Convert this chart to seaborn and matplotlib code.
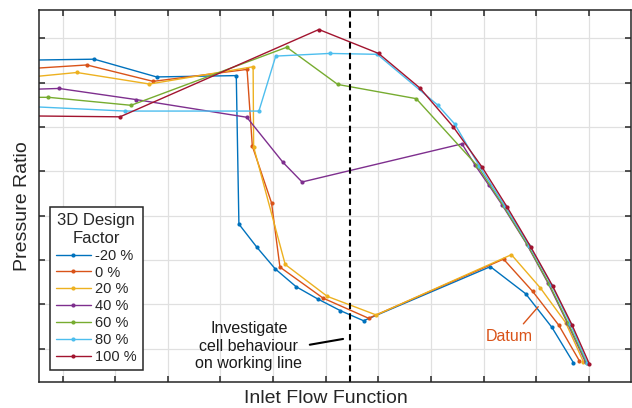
import matplotlib
matplotlib.use("Agg")
import matplotlib.pyplot as plt
import seaborn as sns
import pandas as pd

# Characteristic lines (inlet flow function, pressure ratio) per 3D design factor
labels = ["-20 %", "0 %", "20 %", "40 %", "60 %", "80 %", "100 %"]
colors = ["#0072BD", "#D95319", "#EDB120", "#7E2F8E", "#77AC30", "#4DBEEE", "#A2142F"]

flow_m20 = [-0.60, 0.60, 1.785, 3.30, 3.35, 3.69, 4.04, 4.435, 4.85, 5.28, 5.72, 8.13, 8.80, 9.30, 9.71]
pr_m20 = [6.51, 6.53, 6.13, 6.16, 2.81, 2.29, 1.80, 1.40, 1.12, 0.857, 0.63, 1.85, 1.24, 0.48, -0.32]

flow_0 = [-0.60, 0.46, 1.72, 3.505, 3.605, 3.97, 4.13, 4.95, 5.815, 8.38, 8.935, 9.43, 9.82]
pr_0 = [6.32, 6.40, 6.03, 6.30, 4.57, 3.29, 1.84, 1.14, 0.686, 2.02, 1.29, 0.53, -0.27]

flow_20 = [-0.60, 0.27, 1.65, 3.62, 3.63, 4.23, 5.03, 5.96, 8.53, 9.08, 9.56, 9.90]
pr_20 = [6.13, 6.23, 5.97, 6.36, 4.55, 1.90, 1.18, 0.76, 2.12, 1.37, 0.59, -0.30]

flow_40 = [-0.60, -0.07, 1.39, 3.50, 4.19, 4.55, 7.59, 7.84, 8.10, 8.35, 8.82, 9.23, 9.59, 9.94]
pr_40 = [5.85, 5.87, 5.62, 5.22, 4.20, 3.76, 4.62, 4.14, 3.69, 3.25, 2.36, 1.47, 0.59, -0.31]

flow_60 = [-0.60, -0.27, 1.30, 4.26, 5.23, 6.72, 7.885, 8.38, 8.84, 9.25, 9.61, 9.96]
pr_60 = [5.67, 5.67, 5.49, 6.80, 5.96, 5.64, 4.12, 3.22, 2.33, 1.45, 0.57, -0.32]

flow_80 = [-0.60, 1.19, 3.73, 4.05, 5.075, 5.98, 7.125, 7.45, 7.92, 8.41, 8.87, 9.29, 9.65, 9.975]
pr_80 = [5.46, 5.36, 5.36, 6.60, 6.66, 6.64, 5.50, 5.07, 4.12, 3.21, 2.32, 1.44, 0.56, -0.32]

flow_100 = [-0.60, 1.09, 4.87, 6.005, 6.79, 7.42, 7.97, 8.445, 8.90, 9.315, 9.68, 10.01]
pr_100 = [5.25, 5.23, 7.20, 6.66, 5.88, 5.01, 4.10, 3.20, 2.29, 1.41, 0.54, -0.34]

flows = [flow_m20, flow_0, flow_20, flow_40, flow_60, flow_80, flow_100]
ratios = [pr_m20, pr_0, pr_20, pr_40, pr_60, pr_80, pr_100]

working_line = 5.47
x_ticks = list(range(0, 11))
y_ticks = list(range(0, 8))

sns.set_theme(style="white")
plt.rcParams["font.family"] = ["Liberation Sans", "DejaVu Sans"]

fig = plt.figure(figsize=(6.32, 4.08), dpi=100)
ax = fig.add_axes([0.0617, 0.0645, 0.9373, 0.911])

for lab, col, fx, py in zip(labels, colors, flows, ratios):
    df = pd.DataFrame({"flow": fx, "pr": py})
    sns.lineplot(data=df, x="flow", y="pr", ax=ax, sort=False, estimator=None,
                 color=col, label=lab, linewidth=1.0, marker="o",
                 markersize=3, markeredgewidth=0)

ax.axvline(working_line, color="black", linewidth=1.5, linestyle=(0, (3, 2)))

ax.set_xlim(-0.45, 10.81)
ax.set_ylim(-0.745, 7.64)
ax.set_xticks(x_ticks)
ax.set_yticks(y_ticks)
ax.set_xticklabels([])
ax.set_yticklabels([])
ax.grid(True, color="#e0e0e0", linewidth=0.9)
ax.set_axisbelow(True)
for s in ax.spines.values():
    s.set_color("#262626")
    s.set_linewidth(1.1)
ax.tick_params(direction="in", length=4.3, width=1.1, color="#262626",
               top=True, right=True, bottom=True, left=True)

ax.set_xlabel("Inlet Flow Function", fontsize=14, color="#262626")
ax.set_ylabel("Pressure Ratio", fontsize=14, color="#262626")
ax.xaxis.set_label_coords(0.485, -0.022)
ax.yaxis.set_label_coords(-0.014, 0.471)

leg = ax.legend(title="3D Design\nFactor", loc="lower left",
                bbox_to_anchor=(0.0186, 0.0315), borderaxespad=0,
                fontsize=10.5, title_fontsize=12, frameon=True, fancybox=False,
                framealpha=1, edgecolor="#262626", handlelength=2.4,
                handletextpad=0.3, labelspacing=0.2, borderpad=0.4)
leg.get_frame().set_linewidth(1.1)
leg.get_title().set_multialignment("center")
leg.get_title().set_linespacing(1.2)

ax.annotate("Investigate\ncell behaviour\non working line", xy=(5.33, 0.219),
            xytext=(3.54, 0.06), textcoords="data", ha="center", va="center",
            fontsize=11.5, linespacing=1.2, color="#1a1a1a",
            arrowprops=dict(arrowstyle="-", color="black", lw=1.5,
                            relpos=(1.0, 0.5), shrinkA=3, shrinkB=0))

ax.annotate("Datum", xy=(9.04, 0.947), xytext=(8.49, 0.27), textcoords="data",
            ha="center", va="center", fontsize=11.5, color="#D95319",
            arrowprops=dict(arrowstyle="-", color="#D95319", lw=1.0,
                            relpos=(0.7, 1.0), shrinkA=2, shrinkB=0))

fig.savefig("out.png", dpi=100)
